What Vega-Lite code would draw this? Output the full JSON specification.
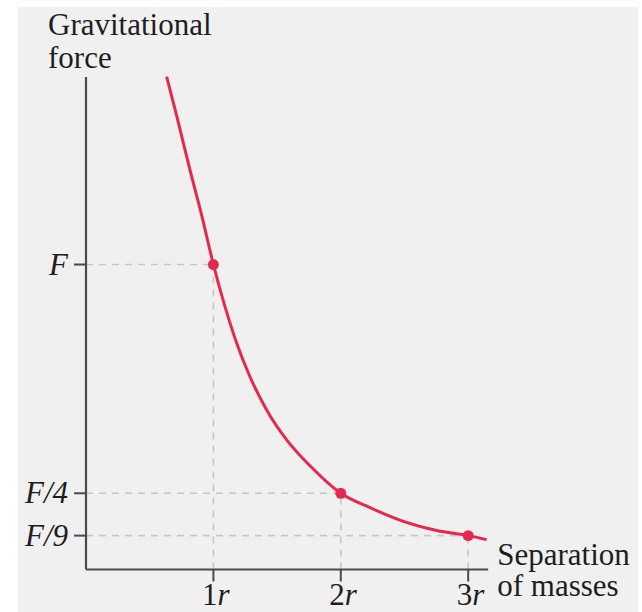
{
  "$schema": "https://vega.github.io/schema/vega-lite/v6.json",
  "width": 620,
  "height": 605,
  "autosize": {"type": "none"},
  "padding": {"left": 18, "top": 7, "right": 4, "bottom": 0},
  "background": "#ffffff",
  "config": {
    "view": {"fill": "#f0f0f0", "stroke": null}
  },
  "datasets": {
    "curve": [
      {"r": 0.633, "f": 1.616},
      {"r": 0.714, "f": 1.484},
      {"r": 0.816, "f": 1.31},
      {"r": 0.911, "f": 1.156},
      {"r": 1.0, "f": 1.0},
      {"r": 1.091, "f": 0.862},
      {"r": 1.183, "f": 0.742},
      {"r": 1.287, "f": 0.632},
      {"r": 1.418, "f": 0.523},
      {"r": 1.575, "f": 0.425},
      {"r": 1.758, "f": 0.34},
      {"r": 2.0, "f": 0.25},
      {"r": 2.229, "f": 0.203},
      {"r": 2.491, "f": 0.158},
      {"r": 2.753, "f": 0.128},
      {"r": 3.0, "f": 0.1111},
      {"r": 3.145, "f": 0.098}
    ],
    "marked": [
      {"r": 1, "f": 1},
      {"r": 2, "f": 0.25},
      {"r": 3, "f": 0.1111}
    ],
    "segments": [
      {"kind": "guide", "r": 0, "f": 1, "r2": 1, "f2": 1},
      {"kind": "guide", "r": 1, "f": 0, "r2": 1, "f2": 1},
      {"kind": "guide", "r": 0, "f": 0.25, "r2": 2, "f2": 0.25},
      {"kind": "guide", "r": 2, "f": 0, "r2": 2, "f2": 0.25},
      {"kind": "guide", "r": 0, "f": 0.1111, "r2": 3, "f2": 0.1111},
      {"kind": "guide", "r": 3, "f": 0, "r2": 3, "f2": 0.1111},
      {"kind": "axis", "r": 0, "f": 0, "r2": 0, "f2": 1.615},
      {"kind": "axis", "r": 0, "f": 0, "r2": 3.157, "f2": 0}
    ],
    "ticks": [
      {"axis": "y", "r": 0, "f": 1, "label": "F"},
      {"axis": "y", "r": 0, "f": 0.25, "label": "F/4"},
      {"axis": "y", "r": 0, "f": 0.1111, "label": "F/9"},
      {"axis": "x", "r": 1, "f": 0, "label": "1"},
      {"axis": "x", "r": 2, "f": 0, "label": "2"},
      {"axis": "x", "r": 3, "f": 0, "label": "3"}
    ],
    "titles": [
      {"axis": "y", "r": 0, "f": 1.615, "title": ["Gravitational", "force"]},
      {"axis": "x", "r": 3.157, "f": 0, "title": ["Separation", "of masses"]}
    ]
  },
  "layer": [
    {
      "data": {"name": "segments"},
      "transform": [{"filter": "datum.kind === 'guide'"}],
      "mark": {"type": "rule", "stroke": "#c6c6c6", "strokeWidth": 1.6, "strokeDash": [7, 6]},
      "encoding": {
        "x": {"field": "r", "type": "quantitative", "scale": {"domain": [-0.5338, 4.3328], "nice": false, "zero": false}, "axis": null},
        "y": {"field": "f", "type": "quantitative", "scale": {"domain": [-0.1393, 1.8443], "nice": false, "zero": false}, "axis": null},
        "x2": {"field": "r2"},
        "y2": {"field": "f2"}
      }
    },
    {
      "data": {"name": "segments"},
      "transform": [{"filter": "datum.kind === 'axis'"}],
      "mark": {"type": "rule", "stroke": "#4a4a4a", "strokeWidth": 2.2},
      "encoding": {
        "x": {"field": "r", "type": "quantitative", "axis": null},
        "y": {"field": "f", "type": "quantitative", "axis": null},
        "x2": {"field": "r2"},
        "y2": {"field": "f2"}
      }
    },
    {
      "data": {"name": "ticks"},
      "transform": [{"filter": "datum.axis === 'y'"}],
      "mark": {"type": "point", "shape": "M-2,0L0,0", "size": 144, "filled": false, "stroke": "#4a4a4a", "strokeWidth": 2, "opacity": 1},
      "encoding": {
        "x": {"field": "r", "type": "quantitative", "axis": null},
        "y": {"field": "f", "type": "quantitative", "axis": null}
      }
    },
    {
      "data": {"name": "ticks"},
      "transform": [{"filter": "datum.axis === 'x'"}],
      "mark": {"type": "point", "shape": "M0,0L0,2", "size": 144, "filled": false, "stroke": "#4a4a4a", "strokeWidth": 2, "opacity": 1},
      "encoding": {
        "x": {"field": "r", "type": "quantitative", "axis": null},
        "y": {"field": "f", "type": "quantitative", "axis": null}
      }
    },
    {
      "data": {"name": "curve"},
      "mark": {"type": "line", "stroke": "#e5294d", "strokeWidth": 3, "interpolate": "monotone"},
      "encoding": {
        "x": {"field": "r", "type": "quantitative", "axis": null},
        "y": {"field": "f", "type": "quantitative", "axis": null}
      }
    },
    {
      "data": {"name": "marked"},
      "mark": {"type": "circle", "fill": "#e5294d", "opacity": 1, "size": 120},
      "encoding": {
        "x": {"field": "r", "type": "quantitative", "axis": null},
        "y": {"field": "f", "type": "quantitative", "axis": null}
      }
    },
    {
      "data": {"name": "ticks"},
      "transform": [{"filter": "datum.axis === 'y'"}],
      "mark": {"type": "text", "font": "Liberation Serif", "fontSize": 31, "fill": "#1e1e1e", "align": "right", "baseline": "middle", "fontStyle": "italic", "dx": -18, "dy": 1},
      "encoding": {
        "x": {"field": "r", "type": "quantitative", "axis": null},
        "y": {"field": "f", "type": "quantitative", "axis": null},
        "text": {"field": "label", "type": "nominal"}
      }
    },
    {
      "data": {"name": "ticks"},
      "transform": [{"filter": "datum.axis === 'x'"}],
      "mark": {"type": "text", "font": "Liberation Serif", "fontSize": 31, "fill": "#1e1e1e", "align": "right", "baseline": "alphabetic", "dx": 4, "dy": 35},
      "encoding": {
        "x": {"field": "r", "type": "quantitative", "axis": null},
        "y": {"field": "f", "type": "quantitative", "axis": null},
        "text": {"field": "label", "type": "nominal"}
      }
    },
    {
      "data": {"name": "ticks"},
      "transform": [{"filter": "datum.axis === 'x'"}],
      "mark": {"type": "text", "font": "Liberation Serif", "fontSize": 31, "fill": "#1e1e1e", "align": "left", "baseline": "alphabetic", "fontStyle": "italic", "dx": 4, "dy": 35, "text": "r"},
      "encoding": {
        "x": {"field": "r", "type": "quantitative", "axis": null},
        "y": {"field": "f", "type": "quantitative", "axis": null}
      }
    },
    {
      "data": {"name": "titles"},
      "transform": [{"filter": "datum.axis === 'y'"}],
      "mark": {"type": "text", "font": "Liberation Serif", "fontSize": 31, "fill": "#1e1e1e", "align": "left", "baseline": "alphabetic", "lineHeight": 33, "dx": -38, "dy": -42},
      "encoding": {
        "x": {"field": "r", "type": "quantitative", "axis": null},
        "y": {"field": "f", "type": "quantitative", "axis": null},
        "text": {"field": "title", "type": "nominal"}
      }
    },
    {
      "data": {"name": "titles"},
      "transform": [{"filter": "datum.axis === 'x'"}],
      "mark": {"type": "text", "font": "Liberation Serif", "fontSize": 31, "fill": "#1e1e1e", "align": "left", "baseline": "alphabetic", "lineHeight": 31, "dx": 9, "dy": -5},
      "encoding": {
        "x": {"field": "r", "type": "quantitative", "axis": null},
        "y": {"field": "f", "type": "quantitative", "axis": null},
        "text": {"field": "title", "type": "nominal"}
      }
    }
  ]
}
